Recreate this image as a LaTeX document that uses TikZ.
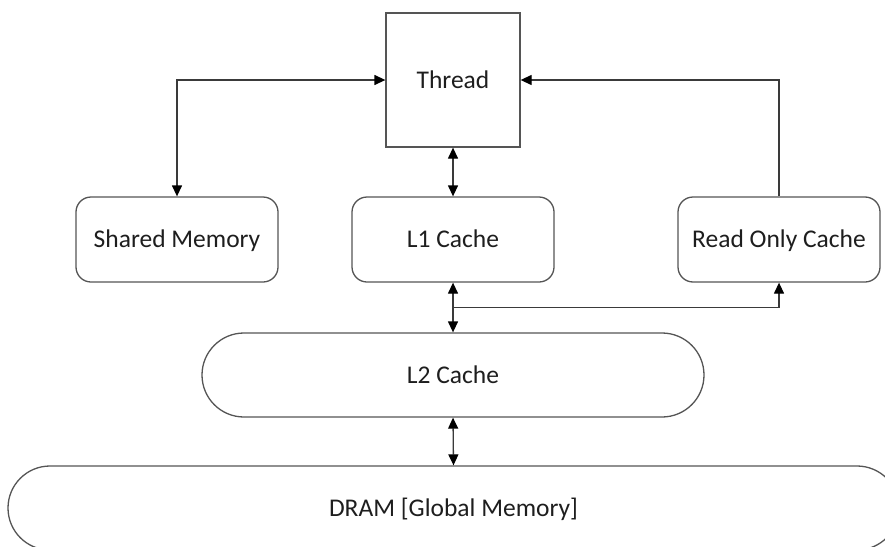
\documentclass[tikz,border=0pt]{standalone}
\usepackage{fontspec}
\setmainfont{Carlito}
\usetikzlibrary{arrows.meta,calc}

\definecolor{edge}{HTML}{555555}
\definecolor{wire}{HTML}{3A3A3A}
\definecolor{ink}{HTML}{1E1E1E}

\tikzset{
  box/.style={draw=edge, line width=1.3pt, fill=white, text=ink,
    inner sep=0pt, font=\fontsize{25.5}{30}\selectfont,
    text height=20pt, text depth=3.6pt},
  cachebox/.style={box, rounded corners=15pt, minimum width=202pt, minimum height=85pt},
  pill/.style={box, rounded corners=42pt, minimum height=84pt},
  link/.style={draw=wire, line width=1.3pt},
  tip/.style={-{Triangle[length=11pt,width=10pt,color=black]}},
  tips/.style={{Triangle[length=11pt,width=10pt,color=black]}-{Triangle[length=11pt,width=10pt,color=black]}}
}

\begin{document}
\begin{tikzpicture}[x=1pt,y=-1pt]
  \useasboundingbox (0,0) rectangle (885,546);
  \clip (0,0) rectangle (885,546);

  % memory hierarchy blocks
  \node[box, minimum width=134pt, minimum height=134pt] (thread) at (453,80) {Thread};
  \node[cachebox] (shm) at (177,239.5) {Shared Memory};
  \node[cachebox] (l1)  at (453,239.5) {L1 Cache};
  \node[cachebox] (ro)  at (779,239.5) {Read Only Cache};
  \node[pill, minimum width=502pt] (l2)   at (453,375) {L2 Cache};
  \node[pill, minimum width=891pt] (dram) at (453.5,508) {DRAM [Global Memory]};

  % data paths
  \draw[link, tips] (thread.west) -| (shm.north);
  \draw[link, tips] (thread.south) -- (l1.north);
  \draw[link, tip]  (ro.north) |- (thread.east);
  \draw[link, tips] (l1.south) -- (l2.north);
  \coordinate (branch) at ($(l1.south)!0.5!(l2.north)$);
  \draw[link, tip]  (branch) -| (ro.south);
  \draw[link, tips] (l2.south) -- (dram.north);
\end{tikzpicture}
\end{document}
